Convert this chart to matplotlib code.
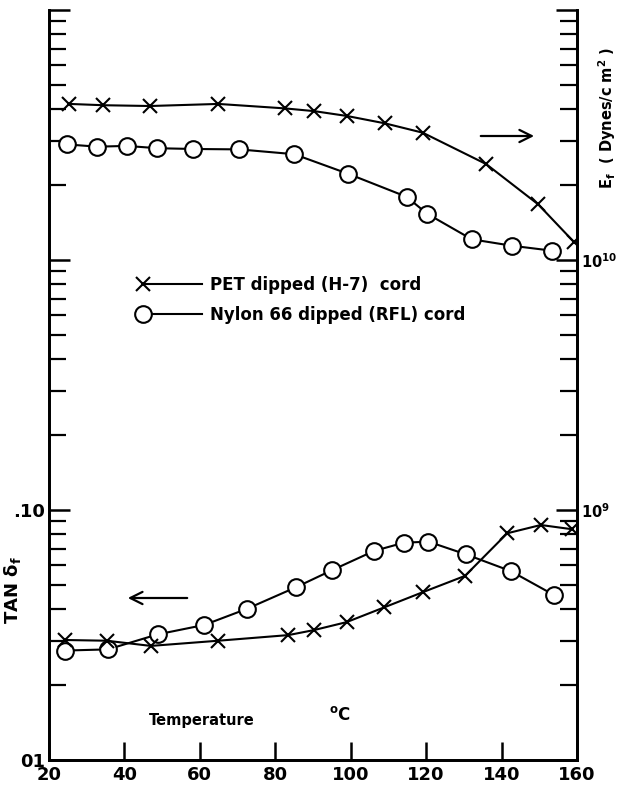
import matplotlib
matplotlib.use("Agg")
import numpy as np
from matplotlib import pyplot as plt
from matplotlib.lines import Line2D
from matplotlib.legend_handler import HandlerLine2DCompound
from matplotlib.ticker import LogLocator, NullFormatter, FixedLocator

plt.rcParams['font.family'] = ['DejaVu Sans']
plt.rcParams['font.weight'] = 'bold'

# Data
# E_f (dynes/cm^2), right axis
pet_E_temp = [25.4, 34.4, 46.8, 64.9, 82.6, 90.3, 98.9, 109.1, 119.1, 135.9, 149.7, 159.2]
pet_E = [4.21e10, 4.16e10, 4.13e10, 4.21e10, 4.04e10, 3.94e10, 3.77e10, 3.52e10,
         3.23e10, 2.42e10, 1.67e10, 1.18e10]
nylon_E_temp = [24.7, 32.8, 40.6, 48.7, 58.3, 70.4, 85.0, 99.4, 114.8, 120.3, 132.1, 142.8, 153.3]
nylon_E = [2.90e10, 2.84e10, 2.86e10, 2.80e10, 2.78e10, 2.77e10, 2.65e10, 2.21e10,
           1.79e10, 1.53e10, 1.21e10, 1.14e10, 1.09e10]

# tan delta, left axis
pet_tan_temp = [24.2, 35.3, 47.0, 64.9, 83.5, 90.3, 98.9, 108.9, 119.1, 130.3, 141.5, 150.4, 158.6]
pet_tan = [0.0302, 0.0300, 0.0286, 0.0300, 0.0316, 0.0331, 0.0356, 0.0408, 0.0469,
           0.0545, 0.0807, 0.0871, 0.0838]
nylon_tan_temp = [24.2, 35.6, 48.8, 61.2, 72.4, 85.5, 95.1, 106.2, 114.1, 120.6, 130.5, 142.4, 153.9]
nylon_tan = [0.0274, 0.0277, 0.0318, 0.0347, 0.0402, 0.0491, 0.0575, 0.0686, 0.0740,
             0.0747, 0.0665, 0.0570, 0.0457]

x_ticks = [20, 40, 60, 80, 100, 120, 140, 160]
left_ticks = [0.01, 0.1, 1, 10]
left_labels = ['01', '.10', '', '']
right_ticks = [1e8, 1e9, 1e10, 1e11]
right_labels = ['', r'$\mathbf{10^9}$', r'$\mathbf{10^{10}}$', '']


class MarkerLeft(HandlerLine2DCompound):
    # legend handle drawn as "X-----" : marker at the left end of the line
    def get_xdata(self, legend, xdescent, ydescent, width, height, fontsize):
        xdata = np.array([-xdescent, -xdescent + width])
        return xdata, np.array([-xdescent])


fig = plt.figure(figsize=(6.2, 7.87), dpi=100)
ax = fig.add_axes([49 / 620, 27 / 787, 528 / 620, 750 / 787])
ax2 = ax.twinx()

ax.set_xlim(20, 160)
ax.set_yscale('log')
ax.set_ylim(0.01, 10)
ax2.set_yscale('log')
ax2.set_ylim(1e8, 1e11)

cross = dict(color='black', lw=1.5, marker='x', markersize=10, markeredgewidth=1.5)
circ = dict(color='black', lw=1.5, marker='o', markersize=12, markerfacecolor='white',
            markeredgecolor='black', markeredgewidth=1.5)

ax2.plot(pet_E_temp, pet_E, **cross)
ax2.plot(nylon_E_temp, nylon_E, **circ)
ax.plot(nylon_tan_temp, nylon_tan, **circ)
ax.plot(pet_tan_temp, pet_tan, **cross)

# ticks
for a in (ax, ax2):
    a.spines['top'].set_visible(False)
    for s in a.spines.values():
        s.set_linewidth(2)
    a.tick_params(which='major', direction='in', length=15, width=1.8, labelsize=13)
    a.tick_params(which='minor', direction='in', length=12, width=1.6)

ax.set_xticks(x_ticks)
ax.set_xticklabels([str(t) for t in x_ticks])
ax.tick_params(axis='x', length=13, pad=4)
ax.yaxis.set_major_locator(FixedLocator(left_ticks))
ax.set_yticklabels(left_labels)
ax.yaxis.set_minor_locator(LogLocator(base=10, subs=range(2, 10)))
ax.yaxis.set_minor_formatter(NullFormatter())
ax.tick_params(axis='y', pad=3)

ax2.yaxis.set_major_locator(FixedLocator(right_ticks))
ax2.set_yticklabels(right_labels)
ax2.yaxis.set_minor_locator(LogLocator(base=10, subs=range(2, 10)))
ax2.yaxis.set_minor_formatter(NullFormatter())
ax2.tick_params(axis='y', pad=3, labelsize=10.5)

# axis labels
ax.set_ylabel(r'TAN $\mathbf{\delta_f}$', fontsize=13, fontweight='bold')
ax.yaxis.set_label_coords(-0.05, 0.227)
ax2.set_ylabel(r'$\mathbf{E_f}$  ( Dynes/c m$\mathbf{^2}$ )', fontsize=10.5, fontweight='bold')
ax2.yaxis.set_label_coords(1.037, 0.856)
ax.text(0.19, 0.053, 'Temperature', transform=ax.transAxes, fontsize=10.5,
        fontweight='bold', va='center')
ax.text(0.53, 0.06, r'$^{\mathbf{o}}$C', transform=ax.transAxes, fontsize=12,
        fontweight='bold', va='center')

# arrows pointing to the axis each curve set belongs to
ax.annotate('', xy=(0.144, 0.216), xytext=(0.267, 0.216), xycoords='axes fraction',
            arrowprops=dict(arrowstyle='->', lw=1.6, mutation_scale=22, color='black'))
ax.annotate('', xy=(0.924, 0.832), xytext=(0.8125, 0.832), xycoords='axes fraction',
            arrowprops=dict(arrowstyle='->', lw=1.6, mutation_scale=22, color='black'))

# legend
h_pet = Line2D([], [], **cross)
h_nyl = Line2D([], [], **circ)
ax.legend([h_pet, h_nyl], ['PET dipped (H-7)  cord', 'Nylon 66 dipped (RFL) cord'],
          loc='upper left', bbox_to_anchor=(0.15, 0.665), frameon=False, numpoints=1,
          handlelength=3.5, handletextpad=0.5, labelspacing=0.7,
          handler_map={Line2D: MarkerLeft()},
          prop={'size': 12, 'weight': 'bold'})

fig.savefig('out.png', dpi=100)
